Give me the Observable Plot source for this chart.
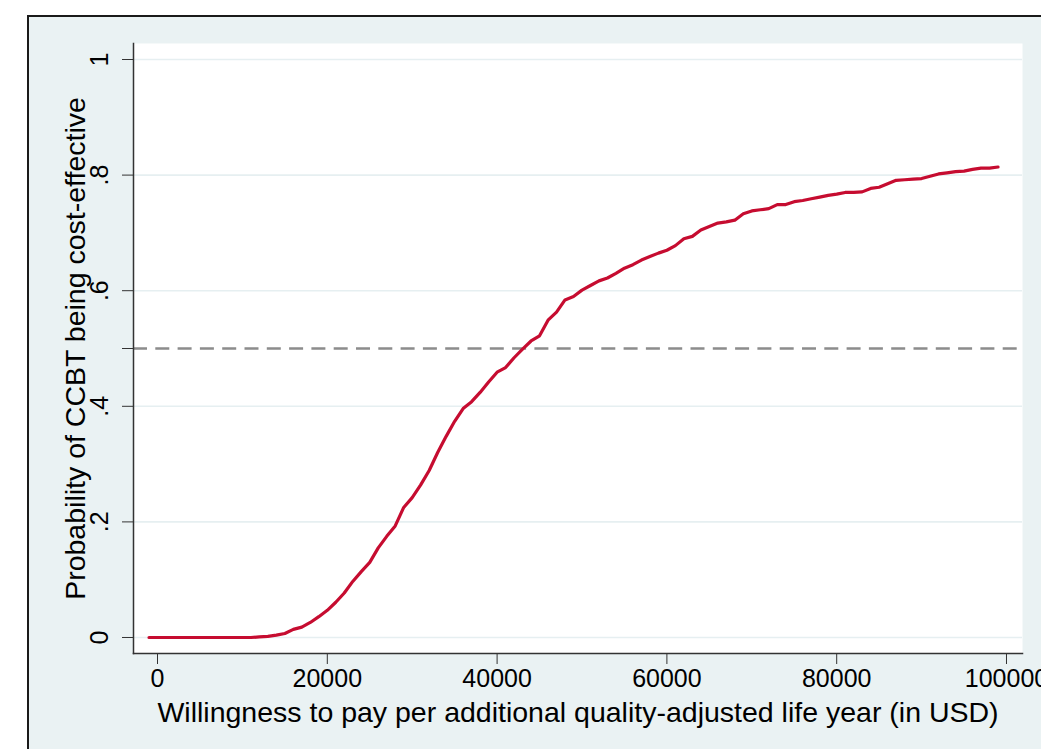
<!DOCTYPE html>
<html><head><meta charset="utf-8">
<script src="https://cdn.jsdelivr.net/npm/d3@7"></script>
<script src="https://cdn.jsdelivr.net/npm/@observablehq/plot@0.6"></script>
<style>
html,body{margin:0;padding:0;background:#fff;overflow:hidden;width:1041px;height:749px}
#wrap{position:relative;width:1041px;height:749px;overflow:hidden}
#bg{position:absolute;left:27px;top:15px;width:1100px;height:800px;background:#eaf2f3;border:2px solid #1a1a1a;box-sizing:border-box}
#chart{position:absolute;left:0;top:0}
</style></head><body><div id="wrap"><div id="bg"></div><div id="chart"></div></div>
<script>
const wtp = [-1000,0,1000,2000,3000,4000,5000,6000,7000,8000,9000,10000,11000,12000,13000,14000,15000,16000,17000,18000,19000,
  20000,21000,22000,23000,24000,25000,26000,27000,28000,29000,30000,31000,32000,33000,34000,35000,36000,37000,38000,39000,
  40000,41000,42000,43000,44000,45000,46000,47000,48000,49000,50000,51000,52000,53000,54000,55000,56000,57000,58000,59000,
  60000,61000,62000,63000,64000,65000,66000,67000,68000,69000,70000,71000,72000,73000,74000,75000,76000,77000,78000,79000,
  80000,81000,82000,83000,84000,85000,86000,87000,88000,89000,90000,91000,92000,93000,94000,95000,96000,97000,98000,99000];
const prob = [0,0,0,0,0,0,0,0,0,0,0,0,0,0.001,0.002,0.004,0.007,0.014,0.018,0.026,0.036,
  0.047,0.061,0.077,0.097,0.114,0.130,0.155,0.175,0.193,0.225,0.242,0.264,0.289,0.320,0.348,0.374,0.396,0.408,0.424,0.442,
  0.459,0.467,0.484,0.499,0.513,0.522,0.549,0.563,0.584,0.590,0.601,0.609,0.617,0.622,0.630,0.639,0.645,0.653,0.659,0.665,
  0.670,0.678,0.690,0.694,0.705,0.711,0.717,0.719,0.722,0.733,0.738,0.740,0.742,0.749,0.749,0.754,0.756,0.759,0.762,0.765,
  0.767,0.770,0.770,0.771,0.777,0.779,0.785,0.791,0.792,0.793,0.794,0.798,0.802,0.804,0.806,0.807,0.810,0.812,0.812,0.814];
const xTicks = [0,20000,40000,60000,80000,100000];
const xTickLabels = ["0","20000","40000","60000","80000","100000"];
const yTicks = [0,0.2,0.4,0.6,0.8,1];
const yTickLabels = ["0",".2",".4",".6",".8","1"];
const yMinorTicks = [0.5];
const threshold = [0.5];
const xTitle = "Willingness to pay per additional quality-adjusted life year (in USD)";
const yTitle = "Probability of CCBT being cost-effective";

const data = wtp.map((w,i)=>({wtp:w, prob:prob[i]}));

const plot = Plot.plot({
  width:1041, height:749,
  marginLeft:133, marginRight:19, marginTop:43, marginBottom:96,
  style:{background:"transparent", fontFamily:"'Liberation Sans', Arial, Helvetica, sans-serif", fontSize:"25px", color:"#000", overflow:"visible"},
  x:{domain:[-2827,101885]},
  y:{domain:[-0.0277,1.0277]},
  marks:[
    Plot.frame({fill:"white"}),
    Plot.gridY({ticks:yTicks, stroke:"#e6eff1", strokeOpacity:1, strokeWidth:1.6}),
    Plot.ruleY(threshold, {stroke:"#8c8c8c", strokeWidth:2.4, strokeDasharray:"14,8.3"}),
    Plot.line(data, {x:"wtp", y:"prob", stroke:"#c60c30", strokeWidth:3.2}),
    Plot.axisX({ticks:xTicks, tickSize:11, tickPadding:5, stroke:"#333", fill:"#000", label:null,
      tickFormat:d=>xTickLabels[xTicks.indexOf(d)]}),
    Plot.axisY({ticks:yTicks, tickSize:11, tickPadding:15, tickRotate:-90, stroke:"#333", fill:"#000", label:null,
      tickFormat:d=>yTickLabels[yTicks.indexOf(d)]}),
    Plot.axisY({ticks:yMinorTicks, tickSize:11, stroke:"#333", label:null, text:null}),
    Plot.frame({anchor:"left", stroke:"#333", strokeWidth:1.5}),
    Plot.frame({anchor:"bottom", stroke:"#333", strokeWidth:1.5}),
    Plot.text([xTitle], {text:d=>d, frameAnchor:"bottom", dy:68, lineAnchor:"bottom", textAnchor:"middle", fill:"#000", fontSize:28.5}),
    Plot.text([yTitle], {text:d=>d, frameAnchor:"left", dx:-69, rotate:-90, lineAnchor:"top", textAnchor:"middle", fill:"#000", fontSize:28.5})
  ]
});
document.getElementById("chart").appendChild(plot);
</script></body></html>
